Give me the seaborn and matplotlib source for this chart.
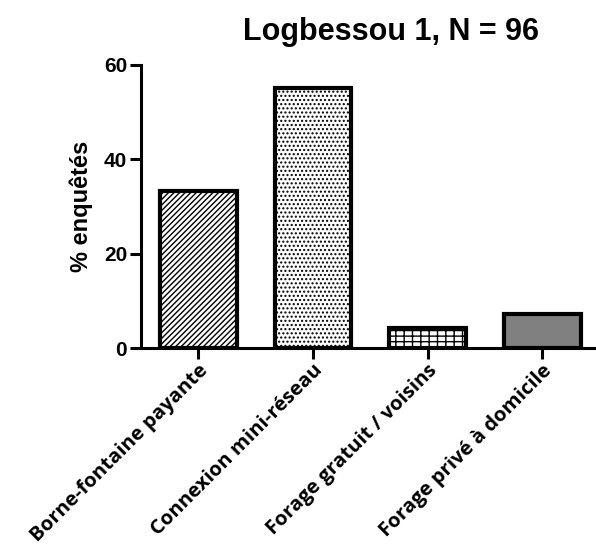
import matplotlib
matplotlib.use("Agg")
import matplotlib.pyplot as plt
import seaborn as sns
import pandas as pd

categories = ["Borne-fontaine payante", "Connexion mini-réseau",
              "Forage gratuit / voisins", "Forage privé à domicile"]
values = [33.3, 55.2, 4.2, 7.3]
title = "Logbessou 1, N = 96"
ylabel = "% enquêtés"
yticks = [0, 20, 40, 60]

sns.set_style("white")
plt.rcParams['font.family'] = ['Liberation Sans', 'DejaVu Sans']
plt.rcParams['hatch.linewidth'] = 1.0
plt.rcParams['text.color'] = 'black'
plt.rcParams['axes.labelcolor'] = 'black'
plt.rcParams['xtick.color'] = 'black'
plt.rcParams['ytick.color'] = 'black'

fig = plt.figure(figsize=(5.96, 5.54), dpi=100)
ax = fig.add_axes([141/596, 1-348/554, 1-141/596, (348-65)/554])

df = pd.DataFrame({"cat": categories, "val": values})
sns.barplot(data=df, x="cat", y="val", ax=ax, color="white", width=0.67,
            edgecolor="black", linewidth=3.0, saturation=1)

hatches = ["//////", "....", "---||", None]
fills = ["white", "white", "white", "#808080"]
for p, h, f in zip(ax.patches, hatches, fills):
    p.set_facecolor(f)
    if h:
        p.set_hatch(h)
    p.set_zorder(3)

ax.set_xlim(-0.5, 3.47)
ax.set_ylim(0, 60)
ax.set_yticks(yticks)
ax.set_yticklabels([str(t) for t in yticks], fontsize=15, fontweight="bold",
                   family=['Liberation Sans', 'DejaVu Sans'])
ax.set_xticks(range(len(categories)))
ax.set_xticklabels(categories, rotation=45, ha="right", rotation_mode="anchor",
                   fontsize=14.6, fontweight="bold",
                   family=['Open Sans', 'Liberation Sans'])
ax.tick_params(axis="x", pad=1)
ax.set_xlabel("")
ax.set_ylabel(ylabel, fontsize=17, fontweight="bold", labelpad=8,
              family=['Liberation Sans', 'DejaVu Sans'])

for s in ["top", "right"]:
    ax.spines[s].set_visible(False)
for s in ["left", "bottom"]:
    ax.spines[s].set_linewidth(2.2)
    ax.spines[s].set_color("black")
ax.tick_params(axis="both", direction="out", length=8, width=2.2, color="black",
               bottom=True, left=True)
ax.tick_params(axis="y", pad=2)

fig.text(391/596, 1-32/554, title, ha="center", va="center",
         fontsize=22, fontweight="bold",
         family=['Liberation Sans', 'DejaVu Sans'])

fig.savefig("out.png", dpi=100)
